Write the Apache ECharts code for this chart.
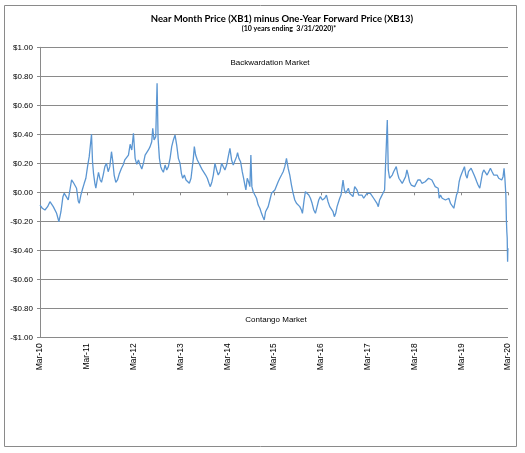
<!DOCTYPE html>
<html>
<head>
<meta charset="utf-8">
<script src="https://cdn.jsdelivr.net/npm/echarts@6/dist/echarts.min.js"></script>
<style>
  html, body { margin: 0; padding: 0; background: #fff; }
  #main { width: 525px; height: 453px; }
</style>
</head>
<body>
<div id="main"></div>
<script>
// x = months since Mar-10, y = XB1 - XB13 spread ($/gal)
var tickLabels = ['Mar-10', 'Mar-11', 'Mar-12', 'Mar-13', 'Mar-14', 'Mar-15',
                  'Mar-16', 'Mar-17', 'Mar-18', 'Mar-19', 'Mar-20'];

var spread2010 = [[0,-0.088],[0.59,-0.110],[1.27,-0.122],[1.95,-0.099],[2.55,-0.065],[2.98,-0.060],
  [3.40,-0.099],[3.83,-0.110],[4.26,-0.145],[4.85,-0.203],[5.37,-0.134],[5.88,-0.030],[6.22,-0.007],
  [6.73,-0.030],[7.24,-0.053],[7.75,0.028],[8.10,0.085],[8.52,0.069],[8.95,0.078],[9.37,0.028],
  [9.80,-0.060],[10.06,-0.076],[10.48,-0.019],[10.91,0.023],[11.34,0.062],[11.76,0.097]];

var spread2011 = [[12.19,0.177],[12.62,0.246],[12.96,0.234],[13.21,0.400],[13.47,0.211],[13.72,0.131],
  [14.07,0.062],[14.32,0.028],[14.66,0.085],[15.00,0.138],[15.43,0.085],[15.77,0.069],[16.20,0.119],
  [16.63,0.177],[17.05,0.200],[17.48,0.142],[17.90,0.177],[18.33,0.280],[18.67,0.211],[19.01,0.119],
  [19.44,0.069],[19.87,0.085],[20.29,0.124],[20.89,0.166],[21.32,0.188],[21.74,0.223],[22.25,0.211],
  [22.68,0.257],[23.11,0.331],[23.53,0.292]];

var spread2012 = [[23.96,0.407],[24.39,0.234],[24.82,0.193],[25.24,0.223],[25.67,0.188],[26.10,0.161],
  [26.52,0.200],[26.95,0.257],[27.38,0.269],[27.80,0.292],[28.23,0.315],[28.65,0.349],[28.91,0.441],
  [29.25,0.361],[29.68,0.384],[30.02,0.752],[30.28,0.372],[30.62,0.234],[30.96,0.177],[31.30,0.154],
  [31.64,0.138],[32.07,0.188],[32.49,0.154],[32.92,0.177],[33.35,0.234],[33.77,0.315],[34.20,0.361],
  [34.63,0.395],[35.05,0.326],[35.48,0.234],[35.91,0.200]];

var spread2013 = [[36.25,0.131],[36.59,0.097],[37.01,0.119],[37.44,0.085],[37.87,0.073],[38.29,0.062],
  [38.72,0.097],[39.06,0.108],[39.32,0.234],[39.57,0.315],[39.91,0.257],[40.34,0.223],[40.77,0.200],
  [41.19,0.177],[41.62,0.154],[42.05,0.142],[42.47,0.119],[42.90,0.097],[43.33,0.062],[43.67,0.039],
  [44.09,0.073],[44.44,0.119],[44.86,0.200],[45.29,0.154],[45.71,0.119],[46.14,0.142],[46.57,0.200],
  [46.99,0.177],[47.42,0.154],[47.85,0.188]];

var spread2014 = [[48.27,0.246],[48.70,0.303],[49.13,0.223],[49.55,0.188],[49.98,0.200],[50.41,0.246],
  [50.66,0.273],[51.00,0.234],[51.43,0.211],[51.86,0.142],[52.20,0.097],[52.54,0.050],[52.79,0.016],
  [53.14,0.097],[53.48,0.073],[53.82,0.039],[54.07,0.257],[54.33,0.039],[54.67,0.004],[55.10,-0.019],
  [55.52,-0.041],[55.95,-0.088],[56.38,-0.110],[56.80,-0.145],[57.14,-0.168],[57.49,-0.191],
  [57.83,-0.134],[58.17,-0.145],[58.51,-0.099],[58.94,-0.053],[59.36,-0.007],[59.79,-0.019]];

var spread2015 = [[60.22,0.016],[60.64,0.028],[61.07,0.073],[61.49,0.097],[61.92,0.119],[62.35,0.142],
  [62.77,0.177],[63.20,0.234],[63.63,0.166],[64.05,0.119],[64.48,0.050],[64.91,-0.007],[65.33,-0.053],
  [65.76,-0.076],[66.19,-0.065],[66.61,-0.099],[67.04,-0.122],[67.29,-0.145],[67.72,-0.053],
  [68.06,0.004],[68.49,0.016],[68.92,-0.019],[69.34,-0.041],[69.77,-0.076],[70.20,-0.122],
  [70.62,-0.145],[71.05,-0.099],[71.47,-0.053]];

var spread2016 = [[71.90,-0.030],[72.41,-0.053],[73.01,-0.041],[73.44,-0.019],[73.86,-0.065],
  [74.29,-0.099],[74.72,-0.110],[75.14,-0.134],[75.48,-0.168],[75.82,-0.145],[76.17,-0.099],
  [76.51,-0.088],[76.85,-0.041],[77.19,-0.019],[77.53,0.050],[77.70,0.085],[78.04,0.016],
  [78.38,-0.007],[78.72,0.004],[79.07,0.028],[79.41,-0.007],[79.83,-0.019],[80.26,-0.030],
  [80.69,0.039],[80.94,0.050],[81.28,0.016],[81.71,-0.019],[82.14,-0.030],[82.56,-0.019],
  [82.99,-0.041],[83.42,-0.030],[83.84,-0.007]];

var spread2017 = [[84.27,0.004],[84.70,-0.007],[85.12,-0.019],[85.55,-0.041],[85.98,-0.053],
  [86.40,-0.076],[86.74,-0.099],[87.08,-0.053],[87.51,-0.030],[87.94,-0.007],[88.36,0.016],
  [88.79,0.028],[89.05,0.499],[89.30,0.154],[89.64,0.097],[89.98,0.085],[90.33,0.119],[90.67,0.142],
  [91.01,0.131],[91.35,0.177],[91.69,0.131],[92.03,0.097],[92.46,0.085],[92.88,0.061],[93.31,0.050],
  [93.74,0.108],[94.08,0.154],[94.42,0.119],[94.76,0.073],[95.19,0.050],[95.61,0.061]];

var spread2018 = [[96.04,0.039],[96.47,0.050],[96.89,0.085],[97.06,0.073],[97.49,0.085],[97.92,0.062],
  [98.34,0.050],[98.77,0.073],[99.20,0.085],[99.62,0.097],[100.05,0.108],[100.48,0.085],[100.90,0.062],
  [101.33,0.039],[101.76,0.050],[102.10,0.028],[102.35,-0.041],[102.69,-0.019],[103.12,-0.041],
  [103.55,-0.030],[103.97,-0.053],[104.40,-0.065],[104.83,-0.041],[105.25,-0.076],[105.68,-0.088],
  [106.11,-0.110],[106.45,-0.065],[106.79,-0.019],[107.13,0.004],[107.47,0.073]];

var spread2019 = [[107.81,0.108],[108.15,0.131],[108.49,0.142],[108.84,0.177],[109.18,0.119],
  [109.52,0.097],[109.86,0.142],[110.20,0.154],[110.54,0.166],[110.97,0.154],[111.31,0.119],
  [111.65,0.097],[111.99,0.073],[112.33,0.050],[112.76,0.028],[113.10,0.016],[113.44,0.131],
  [113.78,0.154],[114.21,0.142],[114.64,0.119],[115.06,0.142],[115.49,0.166],[115.92,0.142],
  [116.34,0.119],[116.77,0.108],[117.20,0.119],[117.62,0.097],[118.05,0.108],[118.39,0.085],
  [118.73,0.108],[118.99,0.166]];

var spread2020 = [[119.2,0.097],[119.45,-0.019],[119.6,-0.203],[119.7,-0.272],[119.8,-0.317],
  [119.85,-0.410],[119.9,-0.479],[119.95,-0.410],[120,-0.386]];

var spread = [].concat(spread2010, spread2011, spread2012, spread2013, spread2014, spread2015,
                       spread2016, spread2017, spread2018, spread2019, spread2020);

var chart = echarts.init(document.getElementById('main'), null, { renderer: 'canvas' });

var gray = '#8a8a8a';
var labelFont = 'Liberation Sans, Arial, sans-serif';

var option = {
  animation: false,
  backgroundColor: '#fff',
  grid: { left: 40, right: 17, top: 47.3, bottom: 115.7, containLabel: false, outerBoundsMode: 'none' },
  graphic: [
    { type: 'rect', shape: { x: 4.5, y: 5.5, width: 512, height: 441 },
      style: { fill: 'none', stroke: gray, lineWidth: 1 }, silent: true },
    { type: 'text', x: 282, y: 18.5,
      style: { text: 'Near Month Price (XB1) minus One-Year Forward Price (XB13)',
               font: 'bold 9.5px Lato, sans-serif', fill: '#000',
               textAlign: 'center', textVerticalAlign: 'middle' } },
    { type: 'text', x: 289, y: 28.5,
      style: { text: '(10 years ending  3/31/2020)*',
               font: 'bold 7px Lato, sans-serif', fill: '#000',
               textAlign: 'center', textVerticalAlign: 'middle' } },
    { type: 'text', x: 270, y: 62.7,
      style: { text: 'Backwardation Market', font: '8px ' + labelFont, fill: '#000',
               textAlign: 'center', textVerticalAlign: 'middle' } },
    { type: 'text', x: 276, y: 320,
      style: { text: 'Contango Market', font: '8px ' + labelFont, fill: '#000',
               textAlign: 'center', textVerticalAlign: 'middle' } }
  ],
  xAxis: [{
    // bottom axis: only the rotated date labels
    type: 'value',
    position: 'bottom',
    min: 0,
    max: 120,
    interval: 12,
    axisLine: { show: false, onZero: false },
    axisTick: { show: false },
    splitLine: { show: false },
    axisLabel: {
      rotate: 90,
      margin: 6,
      color: '#000',
      fontFamily: labelFont,
      fontSize: 8.5,
      formatter: function (v) { return tickLabels[Math.round(v / 12)]; }
    }
  }, {
    // axis line with tick marks crossing at $0.00
    type: 'value',
    position: 'bottom',
    min: 0,
    max: 120,
    interval: 12,
    axisLine: { show: true, onZero: true, lineStyle: { color: gray, width: 1 } },
    axisTick: { show: true, length: 3, lineStyle: { color: gray } },
    splitLine: { show: false },
    axisLabel: { show: false }
  }],
  yAxis: {
    type: 'value',
    min: -1,
    max: 1,
    interval: 0.2,
    axisLine: { show: true, lineStyle: { color: gray, width: 1 } },
    axisTick: { show: true, length: 3, lineStyle: { color: gray } },
    splitLine: { show: true, lineStyle: { color: gray, width: 1 } },
    axisLabel: {
      margin: 7,
      color: '#000',
      fontFamily: labelFont,
      fontSize: 8,
      formatter: function (v) {
        if (Math.abs(v) < 1e-9) v = 0;
        return (v < 0 ? '-' : '') + '$' + Math.abs(v).toFixed(2);
      }
    }
  },
  series: [{
    name: 'XB1 - XB13',
    type: 'line',
    xAxisIndex: 0,
    data: spread,
    showSymbol: false,
    smooth: false,
    lineStyle: { color: '#5b96d2', width: 1.3 }
  }]
};

chart.setOption(option);
</script>
</body>
</html>
